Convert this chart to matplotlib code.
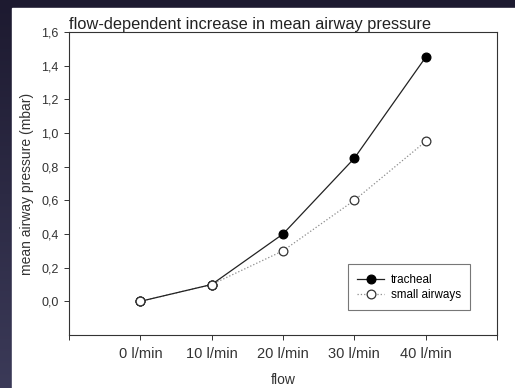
import numpy as np
import matplotlib
matplotlib.use("Agg")
import matplotlib.pyplot as plt

### chart data
categories = ["0 l/min", "10 l/min", "20 l/min", "30 l/min", "40 l/min"]
tracheal = [0.0, 0.1, 0.4, 0.85, 1.45]
small_airways = [0.0, 0.1, 0.3, 0.6, 0.95]
y_ticks = [0.0, 0.2, 0.4, 0.6, 0.8, 1.0, 1.2, 1.4, 1.6]

plt.rcParams["font.family"] = ["Liberation Sans", "DejaVu Sans"]

fig = plt.figure(figsize=(5.15, 3.88), dpi=100)

### dark slide background with a white panel
bg = fig.add_axes([0, 0, 1, 1])
grad = np.linspace(0, 1, 256).reshape(-1, 1)
bg.imshow(grad, aspect="auto", extent=[0, 1, 0, 1],
          cmap=matplotlib.colors.LinearSegmentedColormap.from_list(
              "slide", ["#3b3a58", "#1d1a30"]), origin="lower")
bg.add_patch(plt.Rectangle((12 / 515, 0), 1, 1 - 8 / 388, color="white"))
bg.set_xlim(0, 1)
bg.set_ylim(0, 1)
bg.axis("off")

ax = fig.add_axes([69 / 515, 1 - 335 / 388, (497 - 69) / 515, (335 - 32) / 388])
x = np.arange(len(categories))
ax.plot(x, small_airways, ls=":", color="#8c8c8c", lw=0.9, marker="o",
        ms=6.3, mfc="white", mec="#333333", mew=0.9, label="small airways", zorder=2)
ax.plot(x, tracheal, ls="-", color="#222222", lw=0.9, marker="o",
        ms=6.3, mfc="black", mec="black", mew=0.9, label="tracheal", zorder=3)
# redraw open markers where both series coincide
ax.plot(x[:2], small_airways[:2], ls="none", marker="o", ms=6.3, mfc="white",
        mec="#333333", mew=0.9, zorder=4)

ax.set_xlim(-1, 5)
ax.set_ylim(-0.2, 1.6)
ax.set_xticks(list(range(-1, 6)))
ax.set_xticklabels([""] + categories + [""])
ax.set_yticks(y_ticks)
ax.set_yticklabels([f"{v:.1f}".replace(".", ",") for v in y_ticks])
ax.tick_params(direction="out", length=3.5, width=0.7, colors="#333333", pad=4)
ax.tick_params(axis="y", labelsize=9)
ax.tick_params(axis="x", labelsize=10.5, pad=5)
for s in ax.spines.values():
    s.set_linewidth(0.8)
    s.set_color("#333333")

ax.set_xlabel("flow", fontsize=10, color="#333333", labelpad=9)
ax.set_ylabel("mean airway pressure (mbar)", fontsize=10, color="#333333", labelpad=5)
ax.set_title("flow-dependent increase in mean airway pressure", fontsize=11.8,
             loc="left", pad=2, color="#222222")

handles, labels = ax.get_legend_handles_labels()
leg = ax.legend(handles[::-1], labels[::-1], loc="lower right",
                bbox_to_anchor=(0.937, 0.0825), fontsize=8.4, frameon=True,
                fancybox=False, edgecolor="#555555", handlelength=2.3,
                borderpad=0.8, labelspacing=0.25, handletextpad=0.55,
                borderaxespad=0)
leg.get_frame().set_linewidth(0.8)

fig.savefig("out.png", dpi=100)
